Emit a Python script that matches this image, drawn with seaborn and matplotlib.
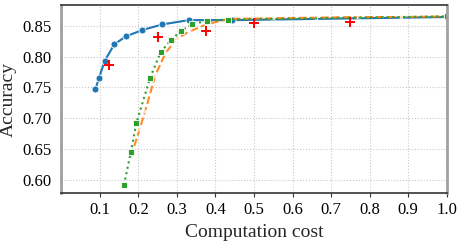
import matplotlib
matplotlib.use("Agg")
import matplotlib.pyplot as plt
import seaborn as sns

# valeurs
cost_blue = [0.089, 0.098, 0.113, 0.138, 0.169, 0.211, 0.262, 0.331, 0.443, 1.0]
acc_blue = [0.747, 0.765, 0.793, 0.820, 0.833, 0.843, 0.852, 0.859, 0.859, 0.864]

cost_orange = [0.181, 0.204, 0.218, 0.244, 0.270, 0.298, 0.331, 0.376, 0.434, 0.55, 0.66, 0.77, 0.88, 1.0]
acc_orange = [0.638, 0.683, 0.712, 0.769, 0.805, 0.828, 0.840, 0.852, 0.861, 0.862, 0.863, 0.864, 0.864, 0.865]

cost_green = [0.163, 0.181, 0.195, 0.231, 0.258, 0.285, 0.312, 0.339, 0.378, 0.432, 1.0]
acc_green = [0.592, 0.646, 0.692, 0.766, 0.807, 0.827, 0.842, 0.852, 0.858, 0.860, 0.865]

cost_red = [0.125, 0.250, 0.376, 0.501, 0.750]
acc_red = [0.787, 0.832, 0.842, 0.855, 0.856]

xticks = [0.1, 0.2, 0.3, 0.4, 0.5, 0.6, 0.7, 0.8, 0.9, 1.0]
yticks = [0.60, 0.65, 0.70, 0.75, 0.80, 0.85]

sns.set_style("whitegrid", {"grid.linestyle": ":", "grid.color": "#c8c8c8"})
plt.rcParams['font.family'] = ['Liberation Serif', 'DejaVu Serif']

fig = plt.figure(figsize=(4.63, 2.41), dpi=100)
ax = fig.add_axes([0.132, 0.199, 0.833, 0.779])

pal = sns.color_palette("tab10")

sns.lineplot(x=cost_blue, y=acc_blue, ax=ax, color=pal[0], marker="o",
             markersize=5, markeredgewidth=0.6, markeredgecolor="white", linewidth=1.5)
sns.lineplot(x=cost_orange, y=acc_orange, ax=ax, color=pal[1], marker="x",
             markersize=3, markeredgewidth=0.8, linestyle="--", linewidth=1.5, alpha=0.9)
sns.lineplot(x=cost_green, y=acc_green, ax=ax, color=pal[2], marker="s",
             markersize=5, markeredgewidth=0.6, markeredgecolor="white", linestyle=":", linewidth=1.5)
sns.scatterplot(x=cost_red, y=acc_red, ax=ax, color="red", marker="+",
                s=55, linewidth=1.4, zorder=5)

ax.set_xlim(0, 1.0)
ax.set_ylim(0.579, 0.883)
ax.set_xticks(xticks)
ax.set_yticks(yticks)
ax.set_xticklabels([f"{t:.1f}" for t in xticks])
ax.set_yticklabels([f"{t:.2f}" for t in yticks])
ax.tick_params(labelsize=12, colors="black")
ax.tick_params(axis="x", bottom=True, length=3, color="#333333")
ax.tick_params(axis="y", left=False)
ax.set_xlabel("Computation cost", fontsize=14)
ax.set_ylabel("Accuracy", fontsize=14)

for side in ["top", "bottom"]:
    ax.spines[side].set_color("#333333")
    ax.spines[side].set_linewidth(1.2)
for side in ["left", "right"]:
    ax.spines[side].set_color("#a0a0a0")
    ax.spines[side].set_linewidth(2)

fig.savefig("out.png", dpi=100)
